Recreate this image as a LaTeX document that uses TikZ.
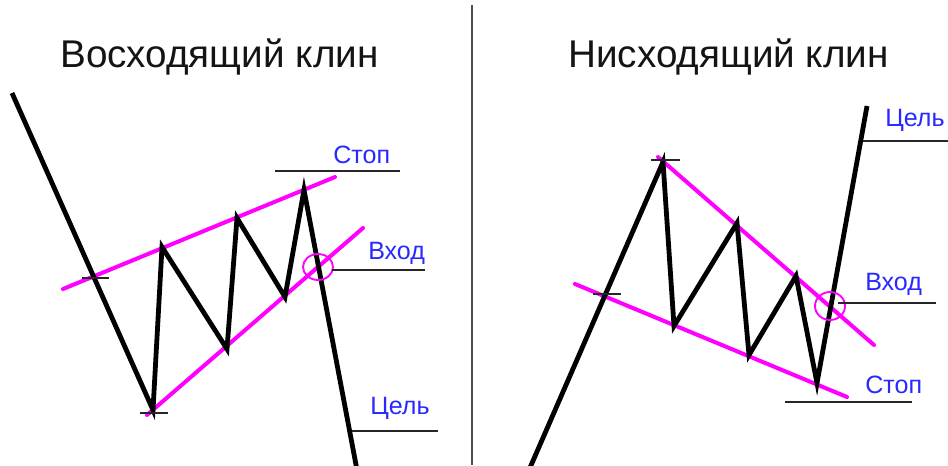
\documentclass[tikz,border=0pt]{standalone}
\usepackage{fontspec}
\setmainfont{Liberation Sans}
\usepackage{xcolor}
\usepackage{tikz}
\usetikzlibrary{
  arrows.meta,
  positioning,
  calc
}
\definecolor{klinline}{RGB}{255,0,255}
\definecolor{klinlabel}{RGB}{40,40,255}
\definecolor{klintitle}{RGB}{20,20,20}

\begin{document}
\begin{tikzpicture}[x=0.75pt, y=-0.75pt,
    price/.style={line width=3.6pt, black, line join=miter},
    border/.style={line width=3pt, klinline, line cap=round},
    level/.style={line width=0.9pt, black!85},
    entry/.style={line width=1.4pt, klinline},
    lbl/.style={anchor=base west, inner sep=0pt, text=klinlabel, font=\fontsize{18.8}{20}\selectfont},
    title/.style={anchor=base west, inner sep=0pt, text=klintitle, font=\fontsize{29}{32}\selectfont}]
    \useasboundingbox (0,0) rectangle (948,465);

    % Разделитель
    \draw[line width=1pt, black!70] (472,5) -- (472,465);

    % Панель 1: Восходящий клин
    \node[title] (titleUp) at (60,67) {Восходящий клин};
    \coordinate (a0) at (12,93);
    \coordinate (a1) at (153,410);
    \coordinate (a2) at (162,247);
    \coordinate (a3) at (227,349);
    \coordinate (a4) at (237,218);
    \coordinate (a5) at (285,297);
    \coordinate (a6) at (304,190);
    \coordinate (a7) at (357,470);
    \draw[border] (63,289) -- (335,177);
    \draw[border] (147,415) -- (363,228);
    \draw[price] (a0) -- (a1) -- (a2) -- (a3) -- (a4) -- (a5) -- (a6) -- (a7);
    \draw[entry] (318,267) ellipse (15 and 13);
    \draw[level] (82,278) -- (109,278);
    \draw[level] (140,413) -- (168,413);
    \draw[level] (275,171) -- (400,171);
    \draw[level] (332,270) -- (425,270);
    \draw[level] (352,431) -- (438,431);
    \node[lbl] (stopUp) at (333,163) {Стоп};
    \node[lbl] (entryUp) at (368,259) {Вход};
    \node[lbl] (goalUp) at (370,414) {Цель};

    % Панель 2: Нисходящий клин
    \node[title] (titleDown) at (568,67) {Нисходящий клин};
    \coordinate (b0) at (529,470);
    \coordinate (b1) at (663,162);
    \coordinate (b2) at (674,326);
    \coordinate (b3) at (737,223);
    \coordinate (b4) at (749,355);
    \coordinate (b5) at (796,276);
    \coordinate (b6) at (817,383);
    \coordinate (b7) at (867,106);
    \draw[border] (658,157) -- (874,345);
    \draw[border] (575,284) -- (847,397);
    \draw[price] (b0) -- (b1) -- (b2) -- (b3) -- (b4) -- (b5) -- (b6) -- (b7);
    \draw[entry] (830,306) ellipse (15 and 14);
    \draw[level] (651,160) -- (680,160);
    \draw[level] (593,294) -- (621,294);
    \draw[level] (863,141) -- (948,141);
    \draw[level] (838,303) -- (936,303);
    \draw[level] (785,402) -- (912,402);
    \node[lbl] (goalDown) at (885,126) {Цель};
    \node[lbl] (entryDown) at (865,290) {Вход};
    \node[lbl] (stopDown) at (865,393) {Стоп};
\end{tikzpicture}
\end{document}
